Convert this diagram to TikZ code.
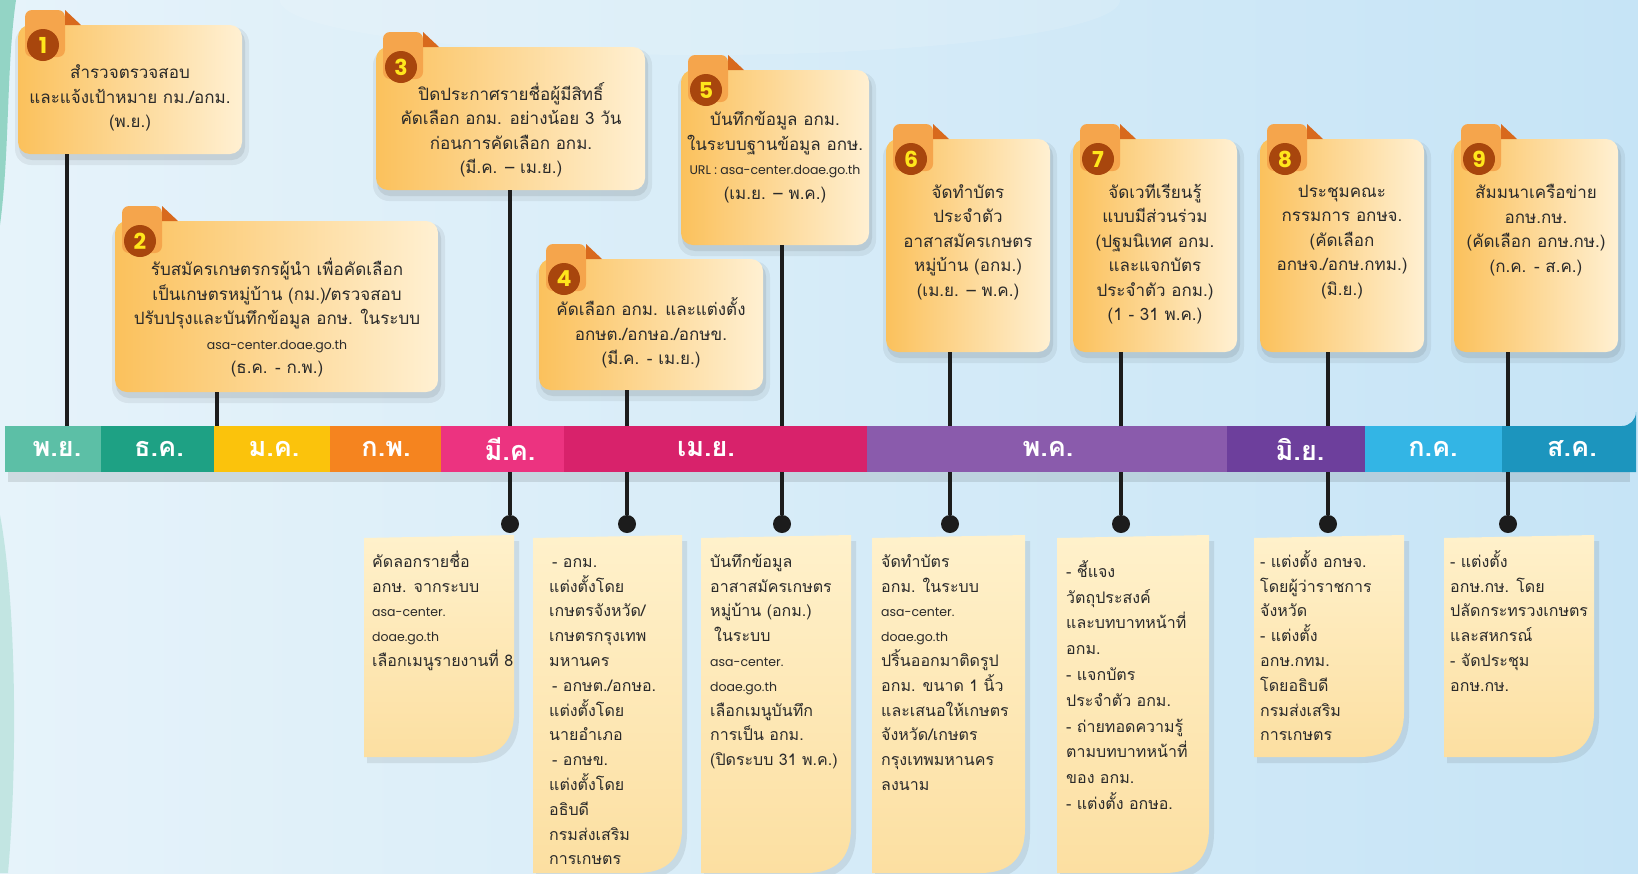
\documentclass[tikz,border=0pt]{standalone}
\usepackage{fontspec}
\setmainfont[Script=Thai]{Loma}
\newfontfamily\urlfont{Poppins}
\usetikzlibrary{fit}
\definecolor{bgA}{HTML}{E6F3FA}
\definecolor{bgB}{HTML}{C6E4F6}
\definecolor{boxL}{HTML}{FBC15C}
\definecolor{boxR}{HTML}{FFF0D2}
\definecolor{tabc}{HTML}{F5A54C}
\definecolor{foldc}{HTML}{D8691D}
\definecolor{badgec}{HTML}{A8460D}
\definecolor{digitc}{HTML}{FFE61C}
\definecolor{noteT}{HTML}{FFF1CB}
\definecolor{noteB}{HTML}{FCDFA1}
\definecolor{linec}{HTML}{1C1C1C}
\definecolor{txt}{HTML}{2A2A2A}
\definecolor{mA}{HTML}{5CBFA6}
\definecolor{mB}{HTML}{1EA184}
\definecolor{mC}{HTML}{FBC30C}
\definecolor{mD}{HTML}{F5841F}
\definecolor{mE}{HTML}{EC3380}
\definecolor{mF}{HTML}{D8226B}
\definecolor{mG}{HTML}{8A5BAC}
\definecolor{mH}{HTML}{6D3F9C}
\definecolor{mI}{HTML}{33B5E5}
\definecolor{mJ}{HTML}{1C95BE}
\definecolor{tealedge}{HTML}{7FCDB8}
\tikzset{
  boxst/.style={rounded corners=12pt,left color=boxL,right color=boxR,inner sep=0pt},
  notest/.style={top color=noteT,bottom color=noteB},
  badge/.style={circle,fill=badgec,text=digitc,minimum size=32pt,inner sep=0pt,font=\urlfont\bfseries\fontsize{22}{22}\selectfont},
  btext/.style={align=center,text=txt,inner sep=0pt,font=\fontsize{17}{24.5}\selectfont},
  ntext/.style={align=left,anchor=north west,text=txt,inner sep=0pt,font=\fontsize{16}{24.8}\selectfont},
  mon/.style={text=white,font=\bfseries\fontsize{27}{27}\selectfont},
  conn/.style={draw=linec,line width=3.6pt},
  dotst/.style={circle,fill=linec,minimum size=18pt,inner sep=0pt}
}
\newcommand\U[1]{{\urlfont\fontsize{12.5}{24.5}\selectfont #1}}
\newcommand\st{\rule{0pt}{19pt}}
\newcommand\mkbox[6]{%
  \fill[black,opacity=.06,rounded corners=16pt] (#2-3,#3+2) rectangle (#4+7,#5+11);
  \fill[black,opacity=.08,rounded corners=13pt] (#2+1,#3+4) rectangle (#4+3,#5+6);
  \node[boxst,fit={(#2,#3) (#4,#5)}] (#1) {};
  \fill[tabc,rounded corners=7pt] (#2+7,#3-15) rectangle (#2+47,#3+32);
  \fill[foldc] (#2+47,#3-15) -- (#2+63,#3) -- (#2+47,#3) -- cycle;
  \node[badge] (#1n) at (#2+25,#3+20) {#6};
}
\newcommand\mknote[5]{%
  \fill[black,opacity=.08] (#2+3,#3+6) -- (#4+5,#3+3) -- (#4+5,#5-40) .. controls (#4+5,#5-8) and (#4-12,#5+6) .. (#4-42,#5+6) -- (#2+3,#5+6) -- cycle;
  \path[notest] (#2,#3) -- (#4,#3-3) -- (#4,#5-45) .. controls (#4,#5-15) and (#4-15,#5) .. (#4-45,#5) -- (#2,#5) -- cycle;
  \node[fit={(#2,#3) (#4,#5)},inner sep=0pt] (#1) {};
}
\begin{document}
\begin{tikzpicture}[x=1pt,y=-1pt]
\useasboundingbox (0,0) rectangle (1638,873);
% background
\shade[left color=bgA,right color=bgB] (0,0) rectangle (1638,873);
\fill[white,opacity=.12] (700,0) ellipse (420 and 55);
\fill[tealedge,opacity=.8] (0,0) -- (16,0) .. controls (6,70) and (10,150) .. (0,225) -- cycle;
\fill[tealedge,opacity=.35] (0,515) .. controls (16,600) and (18,760) .. (8,873) -- (0,873) -- cycle;

% timeline bar
\fill[black,opacity=.10] (8,472) rectangle (1630,482);
\fill[mA] (5,426) rectangle (101,472);
\fill[mB] (101,426) rectangle (214,472);
\fill[mC] (214,426) rectangle (330,472);
\fill[mD] (330,426) rectangle (441,472);
\fill[mE] (441,426) rectangle (564,472);
\fill[mF] (564,426) rectangle (867,472);
\fill[mG] (867,426) rectangle (1227,472);
\fill[mH] (1227,426) rectangle (1365,472);
\fill[mI] (1365,426) rectangle (1502,472);
\fill[mJ] (1502,426) -- (1622,426) arc[start angle=90,end angle=0,radius=14] -- (1636,472) -- (1502,472) -- cycle;
\node[fit={(5,426) (1636,472)},inner sep=0pt] (bar) {};
\node[mon] (mnov) at (57,449) {พ.ย.};
\node[mon] (mdec) at (159,449) {ธ.ค.};
\node[mon] (mjan) at (274,449) {ม.ค.};
\node[mon] (mfeb) at (386,449) {ก.พ.};
\node[mon] (mmar) at (510,449) {มี.ค.};
\node[mon] (mapr) at (706,449) {เม.ย.};
\node[mon] (mmay) at (1048,449) {พ.ค.};
\node[mon] (mjun) at (1300,449) {มิ.ย.};
\node[mon] (mjul) at (1433,449) {ก.ค.};
\node[mon] (maug) at (1572,449) {ส.ค.};

% connector x positions
\coordinate (p1) at (67,0);
\coordinate (p2) at (217,0);
\coordinate (p3) at (510,0);
\coordinate (p4) at (627,0);
\coordinate (p5) at (782,0);
\coordinate (p6) at (950,0);
\coordinate (p7) at (1121,0);
\coordinate (p8) at (1328,0);
\coordinate (p9) at (1508,0);

% upper boxes
\mkbox{b1}{18}{25}{242}{154}{1}
\mkbox{b3}{376}{47}{645}{190}{3}
\mkbox{b5}{681}{70}{869}{245}{5}
\mkbox{b2}{115}{221}{438}{392}{2}
\mkbox{b4}{539}{259}{763}{390}{4}
\mkbox{b6}{886}{139}{1050}{352}{6}
\mkbox{b7}{1073}{139}{1237}{352}{7}
\mkbox{b8}{1260}{139}{1424}{352}{8}
\mkbox{b9}{1454}{139}{1618}{352}{9}

\node[btext] (b1t) at (130,98) {สำรวจตรวจสอบ\\และแจ้งเป้าหมาย กม./อกม.\\(พ.ย.)};
\node[btext] (b2t) at (277,318) {รับสมัครเกษตรกรผู้นำ เพื่อคัดเลือก\\เป็นเกษตรหมู่บ้าน (กม.)/ตรวจสอบ\\ปรับปรุงและบันทึกข้อมูล อกษ. ในระบบ\\\U{asa-center.doae.go.th}\\(ธ.ค. - ก.พ.)};
\node[btext] (b3t) at (511,130) {ปิดประกาศรายชื่อผู้มีสิทธิ์\\คัดเลือก อกม. อย่างน้อย 3 วัน\\ก่อนการคัดเลือก อกม.\\(มี.ค. -- เม.ย.)};
\node[btext] (b4t) at (651,333) {คัดเลือก อกม. และแต่งตั้ง\\อกษต./อกษอ./อกษข.\\(มี.ค. - เม.ย.)};
\node[btext] (b5t) at (775,157) {บันทึกข้อมูล อกม.\\ในระบบฐานข้อมูล อกษ.\\\U{URL : asa-center.doae.go.th}\\(เม.ย. -- พ.ค.)};
\node[btext] (b6t) at (968,242) {จัดทำบัตร\\ประจำตัว\\อาสาสมัครเกษตร\\หมู่บ้าน (อกม.)\\(เม.ย. -- พ.ค.)};
\node[btext] (b7t) at (1155,254) {จัดเวทีเรียนรู้\\แบบมีส่วนร่วม\\(ปฐมนิเทศ อกม.\\และแจกบัตร\\ประจำตัว อกม.)\\(1 - 31 พ.ค.)};
\node[btext] (b8t) at (1342,242) {ประชุมคณะ\\กรรมการ อกษจ.\\(คัดเลือก\\อกษจ./อกษ.กทม.)\\(มิ.ย.)};
\node[btext] (b9t) at (1536,230) {สัมมนาเครือข่าย\\อกษ.กษ.\\(คัดเลือก อกษ.กษ.)\\(ก.ค. - ส.ค.)};

% upper connectors
\draw[conn] (b1.south -| p1) -- (bar.north -| p1);
\draw[conn] (b2.south -| p2) -- (bar.north -| p2);
\draw[conn] (b3.south -| p3) -- (bar.north -| p3);
\draw[conn] (b4.south -| p4) -- (bar.north -| p4);
\draw[conn] (b5.south -| p5) -- (bar.north -| p5);
\draw[conn] (b6.south -| p6) -- (bar.north -| p6);
\draw[conn] (b7.south -| p7) -- (bar.north -| p7);
\draw[conn] (b8.south -| p8) -- (bar.north -| p8);
\draw[conn] (b9.south -| p9) -- (bar.north -| p9);

% lower notes
\mknote{nA}{364}{538}{514}{757}
\mknote{nB}{533}{538}{682}{873}
\mknote{nC}{701}{538}{851}{873}
\mknote{nD}{872}{538}{1025}{873}
\mknote{nE}{1057}{538}{1209}{873}
\mknote{nF}{1254}{538}{1404}{757}
\mknote{nG}{1444}{538}{1594}{757}

\node[ntext] (nAt) at (372,548) {\st คัดลอกรายชื่อ\\อกษ. จากระบบ\\\U{asa-center.}\\\U{doae.go.th}\\เลือกเมนูรายงานที่ 8};
\node[ntext] (nBt) at (549,548) {\st\hspace{3pt}- อกม.\\แต่งตั้งโดย\\เกษตรจังหวัด/\\เกษตรกรุงเทพ\\มหานคร\\\hspace{3pt}- อกษต./อกษอ.\\แต่งตั้งโดย\\นายอำเภอ\\\hspace{3pt}- อกษข.\\แต่งตั้งโดย\\อธิบดี\\กรมส่งเสริม\\การเกษตร};
\node[ntext] (nCt) at (710,548) {\st บันทึกข้อมูล\\อาสาสมัครเกษตร\\หมู่บ้าน (อกม.)\\\hspace{4pt}ในระบบ\\\U{asa-center.}\\\U{doae.go.th}\\เลือกเมนูบันทึก\\การเป็น อกม.\\(ปิดระบบ 31 พ.ค.)};
\node[ntext] (nDt) at (881,548) {\st จัดทำบัตร\\อกม. ในระบบ\\\U{asa-center.}\\\U{doae.go.th}\\ปริ้นออกมาติดรูป\\อกม. ขนาด 1 นิ้ว\\และเสนอให้เกษตร\\จังหวัด/เกษตร\\กรุงเทพมหานคร\\ลงนาม};
\node[ntext,font=\fontsize{16}{25.8}\selectfont] (nEt) at (1066,558) {\st - ชี้แจง\\วัตถุประสงค์\\และบทบาทหน้าที่\\อกม.\\- แจกบัตร\\ประจำตัว อกม.\\- ถ่ายทอดความรู้\\ตามบทบาทหน้าที่\\ของ อกม.\\- แต่งตั้ง อกษอ.};
\node[ntext] (nFt) at (1260,548) {\st - แต่งตั้ง อกษจ.\\โดยผู้ว่าราชการ\\จังหวัด\\- แต่งตั้ง\\อกษ.กทม.\\โดยอธิบดี\\กรมส่งเสริม\\การเกษตร};
\node[ntext] (nGt) at (1450,548) {\st - แต่งตั้ง\\อกษ.กษ. โดย\\ปลัดกระทรวงเกษตร\\และสหกรณ์\\- จัดประชุม\\อกษ.กษ.};

% dots and lower connectors
\node[dotst] (d3) at (510,524) {};
\node[dotst] (d4) at (627,524) {};
\node[dotst] (d5) at (782,524) {};
\node[dotst] (d6) at (950,524) {};
\node[dotst] (d7) at (1121,524) {};
\node[dotst] (d8) at (1328,524) {};
\node[dotst] (d9) at (1508,524) {};
\draw[conn] (bar.south -| d3) -- (d3);
\draw[conn] (bar.south -| d4) -- (d4);
\draw[conn] (bar.south -| d5) -- (d5);
\draw[conn] (bar.south -| d6) -- (d6);
\draw[conn] (bar.south -| d7) -- (d7);
\draw[conn] (bar.south -| d8) -- (d8);
\draw[conn] (bar.south -| d9) -- (d9);
\end{tikzpicture}
\end{document}
